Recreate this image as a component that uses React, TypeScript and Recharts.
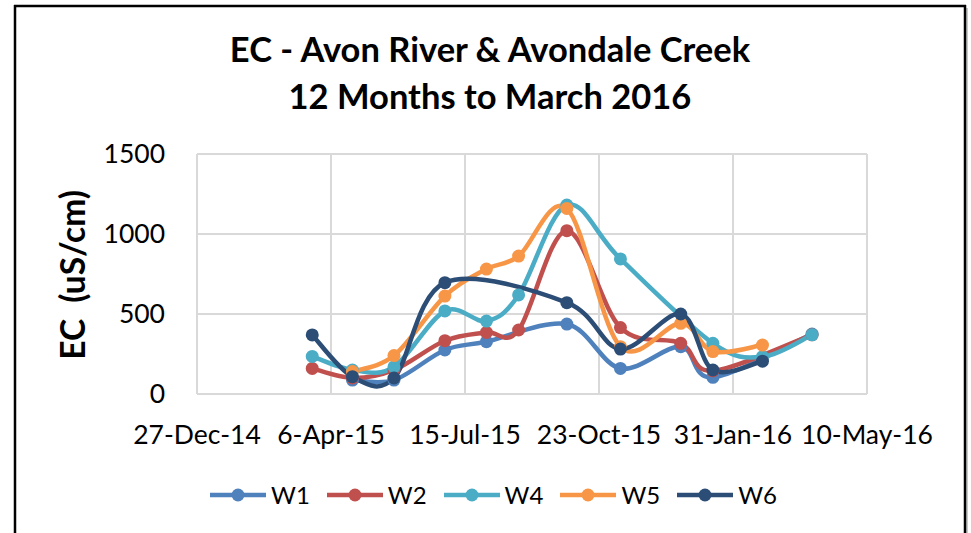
import React from "react"
import { LineChart, Line, XAxis, YAxis, CartesianGrid } from "recharts"

// sampling dates
const sampleDates = [
  "2015-03-23", "2015-04-22", "2015-05-23", "2015-06-30", "2015-07-31", "2015-08-24",
  "2015-09-29", "2015-11-08", "2015-12-23", "2016-01-16", "2016-02-22", "2016-03-30"
]

const tickDates = ["2014-12-27", "2015-04-06", "2015-07-15", "2015-10-23", "2016-01-31", "2016-05-10"]
const yTicks = [0, 500, 1000, 1500]

// EC (uS/cm), null = not sampled
const w1 = [null, 87, 87, 275, 327, null, 437, 160, 296, 104, null, 375]
const w2 = [160, 100, 150, 333, 385, 400, 1021, 415, 317, 145, null, 370]
const w4 = [235, 150, 170, 519, 456, 619, 1181, 844, null, 317, 233, 370]
const w5 = [null, 140, 240, 612, 781, 862, 1160, 296, 442, 265, 306, null]
const w6 = [369, 108, 100, 696, null, null, 571, 281, 500, 150, 205, null]

const series = [
  { key: "W1", values: w1, color: "#4F81BD" },
  { key: "W2", values: w2, color: "#C0504D" },
  { key: "W4", values: w4, color: "#4BACC6" },
  { key: "W5", values: w5, color: "#F79646" },
  { key: "W6", values: w6, color: "#2C4D75" }
]

const toTime = (s: string) => Date.parse(s + "T00:00:00Z")
const MONTHS = ["Jan", "Feb", "Mar", "Apr", "May", "Jun", "Jul", "Aug", "Sep", "Oct", "Nov", "Dec"]

const fmtDate = (t: number) => {
  const d = new Date(t)
  return `${d.getUTCDate()}-${MONTHS[d.getUTCMonth()]}-${String(d.getUTCFullYear()).slice(2)}`
}

const chartData = sampleDates.map((s, i) => {
  const row: Record<string, number | null> = { date: toTime(s) }
  series.forEach((sr) => { row[sr.key] = sr.values[i] })
  return row
})

const xTicks = tickDates.map(toTime)

// excel-like smoothed line (catmull-rom as bezier)
function excelSmooth(context: any) {
  let pts: number[][] = []
  return {
    areaStart() {},
    areaEnd() {},
    lineStart() { pts = [] },
    point(x: number, y: number) { pts.push([+x, +y]) },
    lineEnd() {
      const n = pts.length
      if (!n) return
      context.moveTo(pts[0][0], pts[0][1])
      for (let i = 0; i < n - 1; i++) {
        const p0 = pts[Math.max(i - 1, 0)]
        const p1 = pts[i]
        const p2 = pts[i + 1]
        const p3 = pts[Math.min(i + 2, n - 1)]
        context.bezierCurveTo(
          p1[0] + (p2[0] - p0[0]) / 6, p1[1] + (p2[1] - p0[1]) / 6,
          p2[0] - (p3[0] - p1[0]) / 6, p2[1] - (p3[1] - p1[1]) / 6,
          p2[0], p2[1]
        )
      }
    }
  }
}

const FONT = "Lato, 'Open Sans', sans-serif"
const tickStyle = { fill: "#000", fontSize: 26.5, fontFamily: FONT }

export default function App() {
  return (
    <div style={{ position: "fixed", left: 0, top: 0, width: 971, height: 533, overflow: "hidden", background: "#fff", fontFamily: FONT }}>

      <div style={{
        position: "absolute", left: 0, width: 980, top: 25, textAlign: "center",
        fontSize: 34.5, fontWeight: 700, lineHeight: "47px", color: "#000"
      }}>
        <div>EC - Avon River &amp; Avondale Creek</div>
        <div>12 Months to March 2016</div>
      </div>

      <div style={{
        position: "absolute", left: 73, top: 275, transform: "translate(-50%, -50%) rotate(-90deg)",
        fontSize: 33.5, fontWeight: 700, whiteSpace: "pre", color: "#000", lineHeight: 1
      }}>
        {"EC  (uS/cm)"}
      </div>

      <div style={{ position: "absolute", left: 0, top: 0 }}>
        <LineChart
          width={971}
          height={533}
          data={chartData}
          margin={{ top: 154, right: 104, bottom: 79, left: 0 }}
        >
          <CartesianGrid stroke="#D9D9D9" strokeWidth={2} />

          <XAxis
            dataKey="date"
            type="number"
            domain={[xTicks[0], xTicks[xTicks.length - 1]]}
            ticks={xTicks}
            tickFormatter={fmtDate}
            interval={0}
            height={60}
            tick={tickStyle}
            tickSize={0}
            tickMargin={31}
            axisLine={false}
            tickLine={false}
          />

          <YAxis
            domain={[0, 1500]}
            ticks={yTicks}
            width={197}
            tick={tickStyle}
            tickSize={0}
            tickMargin={32}
            axisLine={false}
            tickLine={false}
          />

          {series.map((s) => (
            <Line
              key={s.key}
              dataKey={s.key}
              type={excelSmooth as any}
              stroke={s.color}
              strokeWidth={4.5}
              connectNulls
              dot={{ r: 6.5, fill: s.color, stroke: s.color, strokeWidth: 0 }}
              activeDot={false}
              isAnimationActive={false}
            />
          ))}
        </LineChart>
      </div>

      <div style={{
        position: "absolute", left: 0, width: 987, top: 480, display: "flex",
        justifyContent: "center", alignItems: "center", fontSize: 24, color: "#000", gap: 17
      }}>
        {series.map((s) => (
          <div key={s.key} style={{ display: "flex", alignItems: "center" }}>
            <svg width={56} height={16} style={{ marginRight: 5 }}>
              <line x1={0} y1={8} x2={56} y2={8} stroke={s.color} strokeWidth={4.5} strokeLinecap="round" />
              <circle cx={28} cy={8} r={6.5} fill={s.color} />
            </svg>
            <span style={{ lineHeight: "30px" }}>{s.key}</span>
          </div>
        ))}
      </div>

      {/* chart frame */}
      <svg width={971} height={533} style={{ position: "absolute", left: 0, top: 0, pointerEvents: "none" }}>
        <line x1={967} y1={8} x2={967} y2={533} stroke="#c8c8c8" strokeWidth={2} />
        <line x1={14} y1={6} x2={966} y2={6} stroke="#000" strokeWidth={2.5} />
        <line x1={965} y1={5} x2={965} y2={533} stroke="#000" strokeWidth={2.5} />
        <line x1={15} y1={5} x2={15} y2={533} stroke="#000" strokeWidth={2.5} />
      </svg>

    </div>
  )
}
